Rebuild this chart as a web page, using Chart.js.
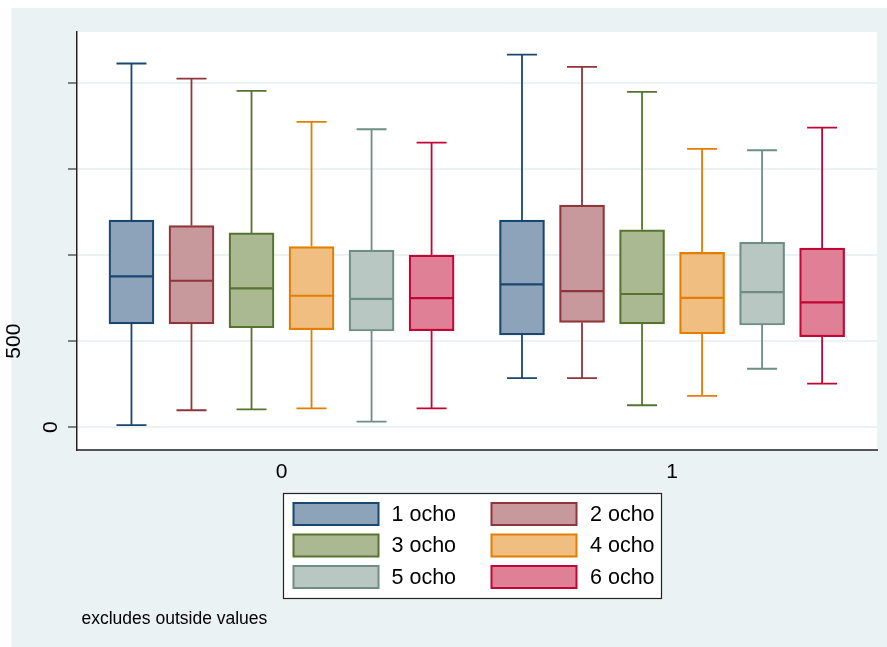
<!DOCTYPE html>
<html>
<head>
<meta charset="utf-8">
<script src="https://cdn.jsdelivr.net/npm/chart.js@4/dist/chart.umd.min.js"></script>
<style>
  html, body { margin: 0; padding: 0; background: #ffffff; }
  canvas { display: block; }
</style>
</head>
<body>
<canvas id="chart" width="887" height="647"></canvas>
<script>
// Groups on the x axis and the six series drawn in each group
const groupLabels = ['0', '1'];
const seriesNames = ['1 ocho', '2 ocho', '3 ocho', '4 ocho', '5 ocho', '6 ocho'];

// Box statistics, one row per series, one value per group (0, 1)
const whiskerLow  = [[12, 286], [99, 286], [104, 128], [110, 182], [33, 340], [110, 253]];
const quartile1   = [[601, 537], [601, 609], [578, 601], [567, 543], [559, 594], [561, 526]];
const medians     = [[876, 830], [851, 791], [807, 774], [764, 752], [746, 785], [750, 725]];
const quartile3   = [[1203, 1203], [1172, 1290], [1129, 1147], [1050, 1016], [1029, 1075], [1000, 1041]];
const whiskerHigh = [[2113, 2165], [2025, 2093], [1954, 1948], [1774, 1617], [1731, 1609], [1654, 1741]];

// Axis ticks
const yTicks = [0, 500, 1000, 1500, 2000];
const yTickLabels = ['0', '500', '', '', ''];
const xTicks = [0, 1];

const lineColors = ['#1A476F', '#90353B', '#55752F', '#E37E00', '#6E8E84', '#C10534'];
const fillColors = ['#8DA3BA', '#C8999C', '#ABB993', '#F0BE80', '#B8C7C1', '#E08096'];
const FONT = "'Liberation Sans', Arial, Helvetica, sans-serif";
const BACK = '#EAF2F3';

// spacing between neighbouring boxes inside a group, in x-axis units
const BOX_STEP = 0.1537;

const datasets = seriesNames.map((name, s) => ({
  label: name,
  data: groupLabels.map((g, gi) => ({
    x: xTicks[gi] + (s - 2.5) * BOX_STEP,
    y: [quartile1[s][gi], quartile3[s][gi]]
  })),
  backgroundColor: fillColors[s],
  borderColor: lineColors[s],
  borderWidth: 2.2,
  borderSkipped: false,
  grouped: false,
  barPercentage: 1,
  categoryPercentage: 1,
  maxBarThickness: 45
}));

// Page background and plot region
const backgroundPlugin = {
  id: 'backdrop',
  beforeDraw(chart) {
    const {ctx, chartArea: a} = chart;
    ctx.save();
    ctx.fillStyle = '#ffffff';
    ctx.fillRect(0, 0, chart.width, chart.height);
    ctx.fillStyle = BACK;
    ctx.fillRect(11.5, 8, chart.width - 11.5, chart.height - 8);
    ctx.fillStyle = '#ffffff';
    ctx.fillRect(a.left, a.top, a.right - a.left, a.bottom - a.top);
    ctx.restore();
  }
};

// Whiskers, caps and median lines for every box
const boxPlugin = {
  id: 'boxparts',
  afterDatasetsDraw(chart) {
    const {ctx} = chart;
    const y = chart.scales.y;
    ctx.save();
    chart.data.datasets.forEach((ds, s) => {
      const meta = chart.getDatasetMeta(s);
      meta.data.forEach((bar, gi) => {
        const cx = bar.x;
        const half = bar.width / 2;
        const cap = bar.width / 3;
        const pLow = y.getPixelForValue(whiskerLow[s][gi]);
        const pQ1 = y.getPixelForValue(quartile1[s][gi]);
        const pMed = y.getPixelForValue(medians[s][gi]);
        const pQ3 = y.getPixelForValue(quartile3[s][gi]);
        const pHigh = y.getPixelForValue(whiskerHigh[s][gi]);
        ctx.strokeStyle = lineColors[s];
        ctx.lineWidth = 1.8;
        ctx.beginPath();
        ctx.moveTo(cx, pQ3); ctx.lineTo(cx, pHigh);
        ctx.moveTo(cx, pQ1); ctx.lineTo(cx, pLow);
        ctx.moveTo(cx - cap, pHigh); ctx.lineTo(cx + cap, pHigh);
        ctx.moveTo(cx - cap, pLow); ctx.lineTo(cx + cap, pLow);
        ctx.stroke();
        ctx.lineWidth = 2.2;
        ctx.beginPath();
        ctx.moveTo(cx - half + 1, pMed); ctx.lineTo(cx + half - 1, pMed);
        ctx.stroke();
      });
    });
    ctx.restore();
  }
};

// Tick labels, legend and note
const textPlugin = {
  id: 'texts',
  afterDraw(chart) {
    const {ctx} = chart;
    const x = chart.scales.x, y = chart.scales.y;
    ctx.save();
    ctx.fillStyle = '#000000';

    // y labels, rotated to read upward
    ctx.font = '21px ' + FONT;
    ctx.textAlign = 'center';
    ctx.textBaseline = 'middle';
    const yLabelX = [50, 13.5];
    let k = 0;
    yTicks.forEach((v, i) => {
      if (!yTickLabels[i]) return;
      const px = yLabelX[Math.min(k, yLabelX.length - 1)];
      k++;
      ctx.save();
      ctx.translate(px, y.getPixelForValue(v));
      ctx.rotate(-Math.PI / 2);
      ctx.fillText(yTickLabels[i], 0, 1);
      ctx.restore();
    });

    // x labels
    xTicks.forEach((v, i) => {
      ctx.fillText(groupLabels[i], x.getPixelForValue(v), 472);
    });

    // legend
    const lx = 283.5, ly = 493.5, lw = 378, lh = 105;
    ctx.fillStyle = '#ffffff';
    ctx.fillRect(lx, ly, lw, lh);
    ctx.strokeStyle = '#222222';
    ctx.lineWidth = 1.2;
    ctx.strokeRect(lx, ly, lw, lh);
    const colSwatch = [293.5, 491.5];
    const colText = [391.5, 590];
    const rowTop = [503, 534.5, 566];
    ctx.textAlign = 'left';
    ctx.font = '21.5px ' + FONT;
    seriesNames.forEach((name, s) => {
      const c = s % 2, r = Math.floor(s / 2);
      ctx.fillStyle = fillColors[s];
      ctx.fillRect(colSwatch[c], rowTop[r], 85, 22);
      ctx.strokeStyle = lineColors[s];
      ctx.lineWidth = 2;
      ctx.strokeRect(colSwatch[c], rowTop[r], 85, 22);
      ctx.fillStyle = '#000000';
      ctx.fillText(name, colText[c], rowTop[r] + 12);
    });

    // note
    ctx.font = '17.5px ' + FONT;
    ctx.fillText('excludes outside values', 81.5, 619);
    ctx.restore();
  }
};

new Chart(document.getElementById('chart'), {
  type: 'bar',
  data: { datasets },
  options: {
    responsive: false,
    devicePixelRatio: 1,
    animation: false,
    layout: { padding: { top: 32, right: 10, left: 0, bottom: 0 } },
    plugins: { legend: { display: false }, tooltip: { enabled: false } },
    scales: {
      x: {
        type: 'linear',
        offset: false,
        min: -0.5237,
        max: 1.5248,
        afterBuildTicks: s => { s.ticks = xTicks.map(v => ({ value: v })); },
        afterFit: s => { s.height = 197; },
        ticks: { display: false },
        grid: { display: false },
        border: { display: true, color: '#555555', width: 2 }
      },
      y: {
        type: 'linear',
        min: -132,
        max: 2296,
        afterBuildTicks: s => { s.ticks = yTicks.map(v => ({ value: v })); },
        afterFit: s => { s.width = 77; },
        ticks: { display: false },
        grid: {
          color: BACK,
          lineWidth: 2,
          drawTicks: true,
          tickLength: 9,
          tickColor: '#333333',
          tickWidth: 1.2
        },
        border: { display: true, color: '#222222', width: 1.5 }
      }
    }
  },
  plugins: [backgroundPlugin, boxPlugin, textPlugin]
});
</script>
</body>
</html>
